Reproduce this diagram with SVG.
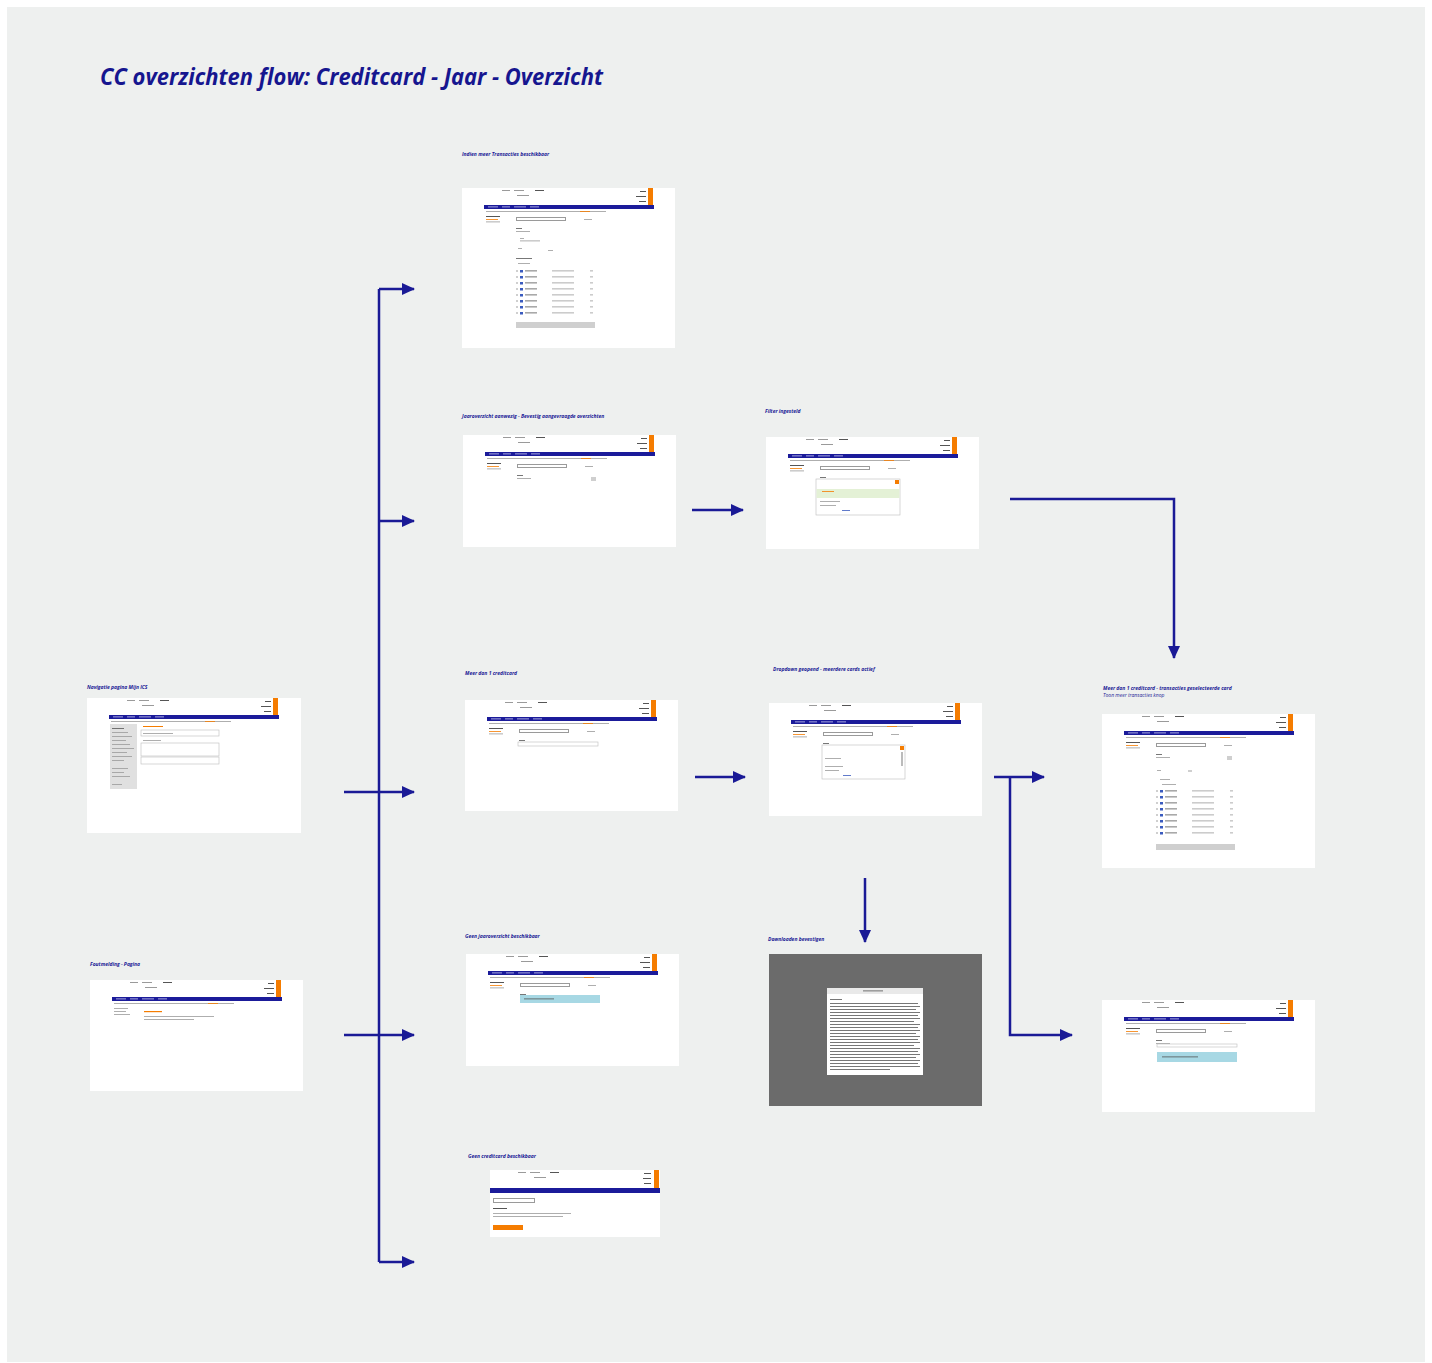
<svg xmlns="http://www.w3.org/2000/svg" width="1432" height="1363" viewBox="0 0 1432 1363">
  <style>
    .bg { fill: #eef0ef; }
    .page { fill: #ffffff; }
    .lbl { font-family: "Open Sans", "Liberation Sans", sans-serif; font-size: 5px; font-weight: bold; font-style: italic; fill: #1a1a96; }
    .title { font-family: "Open Sans", "Liberation Sans", sans-serif; font-size: 23px; font-weight: bold; font-style: italic; fill: #16168f; }
    .wire { fill: none; stroke: #1a1a96; stroke-width: 2.5; }
    .g1 { fill: #9a9a9a; }
    .g2 { fill: #cfcfcf; }
    .g3 { fill: #555555; }
    .navy { fill: #1b1b9a; }
    .orange { fill: #f57c00; }
    .blue { fill: #3a5bbf; }
    .box { fill: #ffffff; stroke: #bdbdbd; stroke-width: 0.6; }
  </style>
  <defs>
    <marker id="arrow" markerUnits="userSpaceOnUse" markerWidth="14" markerHeight="14" viewBox="0 0 14 14" refX="12" refY="7" orient="auto">
      <path d="M0,1 L13,7 L0,13 Z" fill="#1a1a96"/>
    </marker>
    <!-- shared page header: top links, account block, navy menu bar, sub menu -->
    <g id="chrome">
      <rect class="g1" x="40" y="2" width="8" height="1"/>
      <rect class="g1" x="52" y="2" width="10" height="1"/>
      <rect class="g3" x="73" y="2" width="9" height="1"/>
      <rect class="g1" x="55" y="7" width="12" height="1"/>
      <rect class="orange" x="186" y="0" width="5" height="17"/>
      <rect class="g3" x="178" y="3" width="6" height="1"/>
      <rect class="g3" x="174" y="8" width="10" height="1"/>
      <rect class="g3" x="177" y="13" width="7" height="1"/>
      <rect class="navy" x="22" y="17" width="170" height="4"/>
      <rect fill="#c9c9f0" x="26" y="18.5" width="10" height="0.8"/>
      <rect fill="#c9c9f0" x="40" y="18.5" width="8" height="0.8"/>
      <rect fill="#c9c9f0" x="52" y="18.5" width="12" height="0.8"/>
      <rect fill="#c9c9f0" x="68" y="18.5" width="9" height="0.8"/>
      <rect class="g1" x="24" y="23" width="110" height="0.8"/>
      <rect class="orange" x="118" y="23" width="10" height="0.8"/>
      <rect class="g1" x="134" y="23" width="10" height="0.8"/>
    </g>
    <!-- left side menu with active item -->
    <g id="side">
      <rect class="g3" x="24" y="28" width="14" height="1"/>
      <rect class="orange" x="24" y="31" width="12" height="0.8"/>
      <rect class="g1" x="24" y="33.5" width="14" height="0.8"/>
    </g>
    <!-- page heading and card selector -->
    <g id="head">
      <rect class="g1" x="54" y="29" width="50" height="4"/>
      <rect fill="#ffffff" x="55" y="30" width="48" height="2"/>
      <rect class="g1" x="122" y="31" width="8" height="0.8"/>
      <rect class="g3" x="54" y="40" width="6" height="0.8"/>
      <rect class="g1" x="54" y="43" width="14" height="0.8"/>
    </g>
    <!-- one transaction row -->
    <g id="row">
      <rect class="g2" x="0" y="0" width="2" height="2"/>
      <rect class="blue" x="4" y="0" width="3" height="2.5"/>
      <rect class="g3" x="9" y="0.5" width="12" height="0.8"/>
      <rect class="g1" x="36" y="0.5" width="22" height="0.8"/>
      <rect class="g1" x="74" y="0.5" width="3" height="0.8"/>
    </g>
  </defs>

  <rect x="0" y="0" width="1432" height="1363" fill="#ffffff"/>
  <rect class="bg" x="7" y="7" width="1418" height="1355"/>

  <text class="title" x="100" y="85" textLength="503" lengthAdjust="spacingAndGlyphs">CC overzichten flow: Creditcard - Jaar - Overzicht</text>

  <!-- connectors -->
  <g id="connectors">
    <path class="wire" d="M379,1262 V289"/>
    <path class="wire" d="M379,289 H414" marker-end="url(#arrow)"/>
    <path class="wire" d="M379,521 H414" marker-end="url(#arrow)"/>
    <path class="wire" d="M344,792 H414" marker-end="url(#arrow)"/>
    <path class="wire" d="M344,1035 H414" marker-end="url(#arrow)"/>
    <path class="wire" d="M379,1262 H414" marker-end="url(#arrow)"/>
    <path class="wire" d="M692,510 H743" marker-end="url(#arrow)"/>
    <path class="wire" d="M695,777 H745" marker-end="url(#arrow)"/>
    <path class="wire" d="M1010,499 H1174 V658" marker-end="url(#arrow)"/>
    <path class="wire" d="M994,777 H1044" marker-end="url(#arrow)"/>
    <path class="wire" d="M1010,777 V1035 H1072" marker-end="url(#arrow)"/>
    <path class="wire" d="M865,878 V942" marker-end="url(#arrow)"/>
  </g>

  <!-- transaction list, more transactions available -->
  <g id="node-more-transactions">
    <text class="lbl" x="462" y="156">Indien meer Transacties beschikbaar</text>
    <g transform="translate(462,188)">
      <rect class="page" width="213" height="160"/>
      <use href="#chrome"/>
      <use href="#side"/>
      <use href="#head"/>
      <rect class="g1" x="58" y="50" width="4" height="0.8"/>
      <rect class="g1" x="58" y="52.5" width="20" height="0.8"/>
      <rect class="g1" x="56" y="60" width="4" height="0.8"/>
      <rect class="g1" x="86" y="62" width="5" height="0.8"/>
      <rect class="g3" x="54" y="70" width="16" height="0.8"/>
      <rect class="g1" x="56" y="75" width="12" height="0.8"/>
      <use href="#row" x="54" y="82"/>
      <use href="#row" x="54" y="88"/>
      <use href="#row" x="54" y="94"/>
      <use href="#row" x="54" y="100"/>
      <use href="#row" x="54" y="106"/>
      <use href="#row" x="54" y="112"/>
      <use href="#row" x="54" y="118"/>
      <use href="#row" x="54" y="124"/>
      <rect class="g2" x="54" y="134" width="79" height="6"/>
    </g>
  </g>

  <!-- annual statement with filter -->
  <g id="node-annual">
    <text class="lbl" x="462" y="418">Jaaroverzicht aanwezig - Bevestig aangevraagde overzichten</text>
    <g transform="translate(463,435)">
      <rect class="page" width="213" height="112"/>
      <use href="#chrome"/>
      <use href="#side"/>
      <use href="#head"/>
      <rect class="g2" x="128" y="42" width="5" height="4"/>
    </g>
  </g>

  <!-- filter opened -->
  <g id="node-filter">
    <text class="lbl" x="765" y="413">Filter ingesteld</text>
    <g transform="translate(766,437)">
      <rect class="page" width="213" height="112"/>
      <use href="#chrome"/>
      <use href="#side"/>
      <use href="#head"/>
      <rect class="box" x="50" y="42" width="84" height="36"/>
      <rect class="orange" x="129" y="43" width="4" height="4"/>
      <rect fill="#e4f1d6" x="50.5" y="52" width="83" height="9"/>
      <rect class="orange" x="56" y="54" width="12" height="0.8"/>
      <rect class="g1" x="54" y="64" width="20" height="0.8"/>
      <rect class="g1" x="54" y="68" width="16" height="0.8"/>
      <rect class="blue" x="76" y="73" width="8" height="0.8"/>
    </g>
  </g>

  <!-- more than one credit card -->
  <g id="node-multi-card">
    <text class="lbl" x="465" y="675">Meer dan 1 creditcard</text>
    <g transform="translate(465,700)">
      <rect class="page" width="213" height="111"/>
      <use href="#chrome"/>
      <use href="#side"/>
      <use href="#head"/>
      <rect class="box" x="53" y="42" width="80" height="4"/>
    </g>
  </g>

  <!-- card dropdown opened -->
  <g id="node-dropdown">
    <text class="lbl" x="773" y="671">Dropdown geopend - meerdere cards actief</text>
    <g transform="translate(769,703)">
      <rect class="page" width="213" height="113"/>
      <use href="#chrome"/>
      <use href="#side"/>
      <use href="#head"/>
      <rect class="box" x="53" y="42" width="83" height="34"/>
      <rect class="orange" x="131" y="43" width="4" height="4"/>
      <rect fill="#bbbbbb" x="132" y="49" width="2" height="14"/>
      <rect class="g1" x="56" y="55" width="16" height="0.8"/>
      <rect class="g1" x="56" y="63" width="18" height="0.8"/>
      <rect class="g1" x="56" y="67" width="14" height="0.8"/>
      <rect class="blue" x="74" y="72" width="8" height="0.8"/>
    </g>
  </g>

  <!-- transaction list for the selected card -->
  <g id="node-card-transactions">
    <text class="lbl" x="1103" y="690">Meer dan 1 creditcard - transacties geselecteerde card</text>
    <text class="lbl" x="1103" y="697" style="font-weight:normal">Toon meer transacties knop</text>
    <g transform="translate(1102,714)">
      <rect class="page" width="213" height="154"/>
      <use href="#chrome"/>
      <use href="#side"/>
      <use href="#head"/>
      <rect class="g2" x="125" y="42" width="5" height="4"/>
      <rect class="g1" x="55" y="56" width="4" height="0.8"/>
      <rect class="g2" x="86" y="56" width="4" height="2"/>
      <rect class="g1" x="58" y="65" width="10" height="0.8"/>
      <rect class="g1" x="60" y="70" width="14" height="0.8"/>
      <use href="#row" x="54" y="76"/>
      <use href="#row" x="54" y="82"/>
      <use href="#row" x="54" y="88"/>
      <use href="#row" x="54" y="94"/>
      <use href="#row" x="54" y="100"/>
      <use href="#row" x="54" y="106"/>
      <use href="#row" x="54" y="112"/>
      <use href="#row" x="54" y="118"/>
      <rect class="g2" x="54" y="130" width="79" height="6"/>
    </g>
  </g>

  <!-- navigation menu entry -->
  <g id="node-navigation">
    <text class="lbl" x="87" y="689">Navigatie pagina Mijn ICS</text>
    <g transform="translate(87,698)">
      <rect class="page" width="214" height="135"/>
      <use href="#chrome"/>
      <rect fill="#e0e0e0" x="23" y="26" width="27" height="65"/>
      <rect class="g3" x="25" y="30" width="12" height="0.8"/>
      <rect class="g1" x="25" y="34" width="16" height="0.8"/>
      <rect class="g1" x="25" y="38" width="20" height="0.8"/>
      <rect class="g1" x="25" y="42" width="14" height="0.8"/>
      <rect class="g1" x="25" y="46" width="18" height="0.8"/>
      <rect class="g1" x="25" y="50" width="22" height="0.8"/>
      <rect class="g1" x="25" y="54" width="15" height="0.8"/>
      <rect class="g1" x="25" y="58" width="20" height="0.8"/>
      <rect class="g1" x="25" y="62" width="12" height="0.8"/>
      <rect class="g1" x="25" y="70" width="16" height="0.8"/>
      <rect class="g1" x="25" y="74" width="12" height="0.8"/>
      <rect class="g1" x="25" y="78" width="18" height="0.8"/>
      <rect class="g1" x="25" y="86" width="10" height="0.8"/>
      <rect class="orange" x="56" y="28" width="20" height="1"/>
      <rect class="box" x="54" y="32" width="78" height="6"/>
      <rect class="g1" x="56" y="35" width="30" height="0.8"/>
      <rect class="g1" x="56" y="42" width="18" height="0.8"/>
      <rect class="box" x="54" y="45" width="78" height="13"/>
      <rect class="box" x="54" y="59" width="78" height="7"/>
    </g>
  </g>

  <!-- error page -->
  <g id="node-error">
    <text class="lbl" x="90" y="966">Foutmelding - Pagina</text>
    <g transform="translate(90,980)">
      <rect class="page" width="213" height="111"/>
      <use href="#chrome"/>
      <rect class="g1" x="24" y="28" width="14" height="0.8"/>
      <rect class="g1" x="24" y="31" width="12" height="0.8"/>
      <rect class="g1" x="24" y="34" width="16" height="0.8"/>
      <rect class="orange" x="54" y="31" width="18" height="1.2"/>
      <rect class="g1" x="54" y="36" width="70" height="0.8"/>
      <rect class="g1" x="54" y="39" width="50" height="0.8"/>
    </g>
  </g>

  <!-- no annual statement available -->
  <g id="node-no-statement">
    <text class="lbl" x="465" y="938">Geen jaaroverzicht beschikbaar</text>
    <g transform="translate(466,954)">
      <rect class="page" width="213" height="112"/>
      <use href="#chrome"/>
      <use href="#side"/>
      <use href="#head"/>
      <rect fill="#a7d8e4" x="54" y="41" width="80" height="8"/>
      <rect class="g3" x="58" y="44.5" width="30" height="0.8"/>
    </g>
  </g>

  <!-- download confirmation overlay -->
  <g id="node-download">
    <text class="lbl" x="768" y="941">Downloaden bevestigen</text>
    <g transform="translate(769,954)">
      <rect fill="#6b6b6b" width="213" height="152"/>
      <rect fill="#ffffff" x="58" y="34" width="96" height="87"/>
      <rect fill="#e9e9e9" x="58" y="34" width="96" height="6"/>
      <rect class="g3" x="94" y="36.5" width="20" height="0.8"/>
      <g class="g3">
        <rect x="61" y="45" width="12" height="0.8"/>
        <rect x="61" y="49" width="88" height="0.8"/>
        <rect x="61" y="52" width="90" height="0.8"/>
        <rect x="61" y="55" width="86" height="0.8"/>
        <rect x="61" y="58" width="90" height="0.8"/>
        <rect x="61" y="61" width="88" height="0.8"/>
        <rect x="61" y="64" width="90" height="0.8"/>
        <rect x="61" y="67" width="84" height="0.8"/>
        <rect x="61" y="70" width="90" height="0.8"/>
        <rect x="61" y="73" width="88" height="0.8"/>
        <rect x="61" y="76" width="90" height="0.8"/>
        <rect x="61" y="79" width="86" height="0.8"/>
        <rect x="61" y="82" width="90" height="0.8"/>
        <rect x="61" y="85" width="88" height="0.8"/>
        <rect x="61" y="88" width="90" height="0.8"/>
        <rect x="61" y="91" width="84" height="0.8"/>
        <rect x="61" y="94" width="90" height="0.8"/>
        <rect x="61" y="97" width="88" height="0.8"/>
        <rect x="61" y="100" width="90" height="0.8"/>
        <rect x="61" y="103" width="86" height="0.8"/>
        <rect x="61" y="106" width="90" height="0.8"/>
        <rect x="61" y="109" width="88" height="0.8"/>
        <rect x="61" y="112" width="90" height="0.8"/>
        <rect x="61" y="115" width="60" height="0.8"/>
      </g>
    </g>
  </g>

  <!-- card selected, no statement -->
  <g id="node-card-no-statement">
    <g transform="translate(1102,1000)">
      <rect class="page" width="213" height="112"/>
      <use href="#chrome"/>
      <use href="#side"/>
      <use href="#head"/>
      <rect class="box" x="55" y="44" width="80" height="3"/>
      <rect fill="#a7d8e4" x="55" y="52" width="80" height="10"/>
      <rect class="g3" x="60" y="56.5" width="36" height="0.8"/>
    </g>
  </g>

  <!-- no credit card available -->
  <g id="node-no-card">
    <text class="lbl" x="468" y="1158">Geen creditcard beschikbaar</text>
    <g transform="translate(490,1170)">
      <rect class="page" width="170" height="67"/>
      <rect class="g1" x="28" y="2" width="8" height="1"/>
      <rect class="g1" x="40" y="2" width="10" height="1"/>
      <rect class="g3" x="60" y="2" width="9" height="1"/>
      <rect class="g1" x="44" y="7" width="12" height="1"/>
      <rect class="orange" x="164" y="0" width="5" height="18"/>
      <rect class="g3" x="154" y="3" width="7" height="1"/>
      <rect class="g3" x="153" y="8" width="8" height="1"/>
      <rect class="g3" x="154" y="13" width="7" height="1"/>
      <rect class="navy" x="0" y="18" width="170" height="5"/>
      <rect class="g1" x="3" y="28" width="42" height="5"/>
      <rect fill="#ffffff" x="4" y="29" width="40" height="3"/>
      <rect class="g3" x="3" y="38" width="14" height="1"/>
      <rect class="g1" x="3" y="43" width="78" height="0.8"/>
      <rect class="g1" x="3" y="46" width="70" height="0.8"/>
      <rect class="orange" x="3" y="55" width="30" height="5"/>
    </g>
  </g>
</svg>
